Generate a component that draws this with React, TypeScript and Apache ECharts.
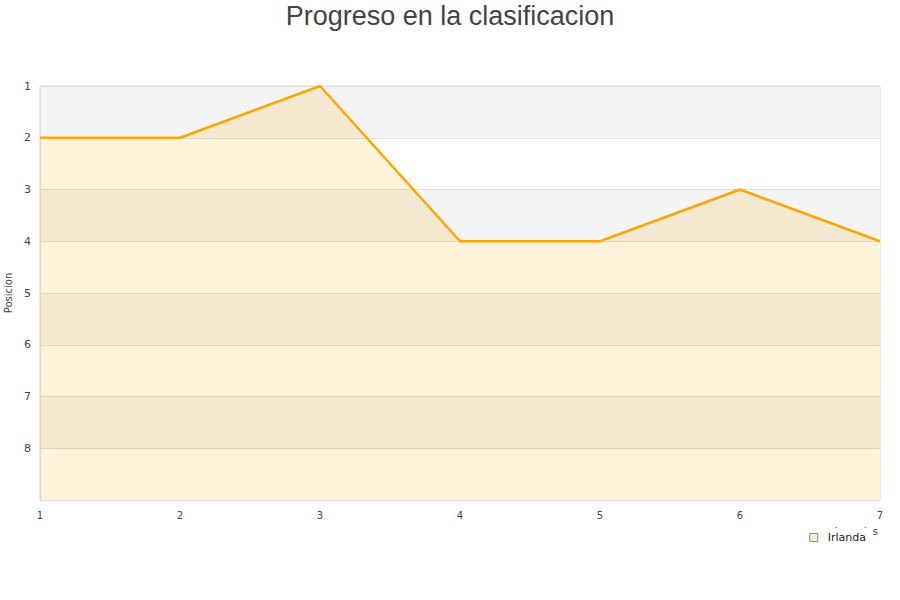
import React, { useEffect, useRef } from "react";
import * as echarts from "echarts";

const jornadas = ["1", "2", "3", "4", "5", "6", "7"];
const posiciones = [2, 2, 1, 4, 4, 3, 4];
const serieNombre = "Irlanda";
const titulo = "Progreso en la clasificacion";

export default function App() {
  const ref = useRef<HTMLDivElement>(null);
  useEffect(() => {
    if (!ref.current) return;
    const chart = echarts.init(ref.current, null, { renderer: "svg" });
    chart.setOption({
      animation: false,
      backgroundColor: "#ffffff",
      textStyle: { fontFamily: "DejaVu Sans" },
      title: {
        text: titulo,
        left: "center",
        top: -3,
        textStyle: {
          fontFamily: "Liberation Sans",
          fontSize: 27,
          fontWeight: "normal",
          color: "#444444",
        },
      },
      grid: {
        left: 40,
        right: 20,
        top: 86,
        bottom: 100,
        outerBoundsMode: "none",
        containLabel: false,
        show: true,
        borderColor: "#dddddd",
        borderWidth: 1,
        backgroundColor: "transparent",
      },
      legend: {
        data: [
          {
            name: serieNombre,
            icon: "rect",
            itemStyle: { color: "#ffecc8", borderColor: "#888888", borderWidth: 1 },
          },
        ],
        right: 27,
        top: 528,
        itemWidth: 8,
        itemHeight: 8,
        padding: [4, 7, 1, 6],
        backgroundColor: "#ffffff",
        textStyle: {
          fontFamily: "DejaVu Sans",
          fontSize: 11,
          color: "#222222",
          padding: [0, 0, 0, 5],
        },
        z: 10,
      },
      xAxis: {
        type: "category",
        data: jornadas,
        boundaryGap: false,
        name: "Jornadas",
        nameLocation: "end",
        nameGap: 0,
        nameTextStyle: {
          align: "right",
          verticalAlign: "top",
          padding: [26, 2, 0, 0],
          fontSize: 10,
          color: "#444444",
        },
        axisLine: { show: true, lineStyle: { color: "#dddddd" } },
        axisTick: { show: false },
        axisLabel: { color: "#444444", fontSize: 10, margin: 10 },
        splitLine: { show: false },
      },
      yAxis: {
        type: "value",
        inverse: true,
        min: 1,
        max: 9,
        interval: 1,
        name: "Posicion",
        nameLocation: "middle",
        nameGap: 23,
        nameTextStyle: { fontSize: 10, color: "#444444" },
        axisLine: { show: true, lineStyle: { color: "#dddddd" } },
        axisTick: { show: false },
        axisLabel: {
          color: "#444444",
          fontSize: 11,
          margin: 9,
          formatter: (v: number) => (v === 9 ? "" : String(v)),
        },
        splitLine: { show: true, lineStyle: { color: "#e2dccf", width: 1 } },
        splitArea: { show: true, areaStyle: { color: ["#f4f4f4", "#ffffff"] } },
      },
      series: [
        {
          name: serieNombre,
          type: "line",
          data: posiciones,
          showSymbol: false,
          symbol: "none",
          lineStyle: { color: "#ffa500", width: 2.5 },
          itemStyle: { color: "#ffecc8", borderColor: "#888888", borderWidth: 1 },
          areaStyle: { color: "rgba(255,165,0,0.21)", origin: "end" },
        },
      ],
    });
    return () => chart.dispose();
  }, []);
  return (
    <div
      ref={ref}
      style={{ position: "fixed", left: 0, top: 0, width: 900, height: 600 }}
    />
  );
}
